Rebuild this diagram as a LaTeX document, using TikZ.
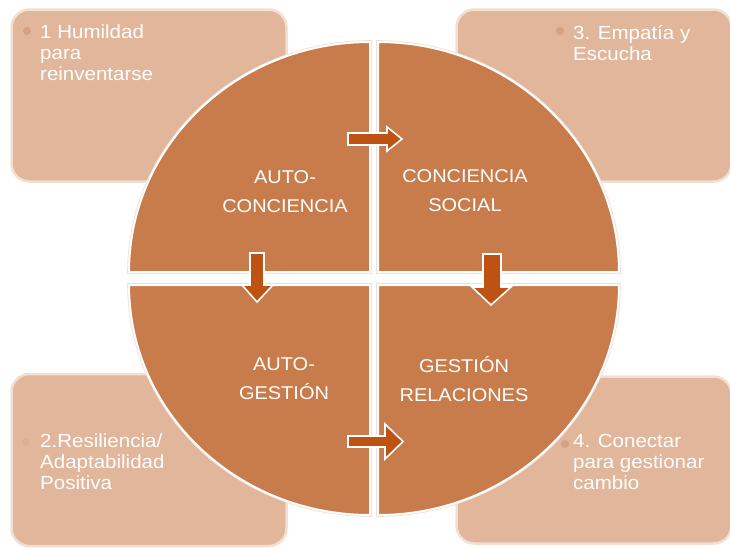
\documentclass[tikz,border=0pt]{standalone}
\usepackage{xcolor}
\usepackage{fontspec}
\setmainfont[FakeStretch=1.08]{Liberation Sans}
\usepackage{tikz}

\definecolor{orangeQ}{RGB}{201,124,75}
\definecolor{fondB}{RGB}{225,182,155}
\definecolor{bordB}{RGB}{243,222,208}
\definecolor{orangeF}{RGB}{190,82,18}
\definecolor{puceB}{RGB}{214,160,130}

\begin{document}
\begin{tikzpicture}[x=1pt,y=-1pt]
% Styles (MODIFIABLES)
\tikzstyle{boite}=[rectangle,rounded corners=18,fill=fondB,draw=bordB,line width=2.5pt,minimum width=275,minimum height=172]
\tikzstyle{quartier}=[preaction={draw=bordB,line width=3.6pt},fill=orangeQ,draw=white,line width=2pt]
\tikzstyle{fleche}=[fill=orangeF,draw=white,line width=1.6pt,line join=miter]
\tikzstyle{texte}=[anchor=north west,inner sep=0,align=left,text=white,font=\fontsize{19}{21}\selectfont]
\tikzstyle{titre}=[inner sep=0,align=center,text=white,font=\fontsize{18.5}{29}\selectfont]
\tikzstyle{puce}=[circle,fill=puceB,inner sep=0,minimum size=8]
% Dimensions (MODIFIABLES)
\def\RayonX{241pt}
\def\RayonY{230pt}
\useasboundingbox (0,0) rectangle (730,547);
% Boites
\node[boite] (B1) at (149,95.5) {};
\node[boite] (B3) at (594,95.5) {};
\node[boite] (B2) at (149,460) {};
\node[boite,minimum height=167] (B4) at (594,460) {};
% Quartiers du cercle
\draw[quartier] (370,272) -- ++(-241,0) arc[start angle=180,end angle=90,x radius=\RayonX,y radius=\RayonY] -- cycle;
\draw[quartier] (378,272) -- ++(241,0) arc[start angle=0,end angle=90,x radius=\RayonX,y radius=\RayonY] -- cycle;
\draw[quartier] (370,285) -- ++(-241,0) arc[start angle=180,end angle=270,x radius=\RayonX,y radius=\RayonY] -- cycle;
\draw[quartier] (378,285) -- ++(241,0) arc[start angle=0,end angle=-90,x radius=\RayonX,y radius=\RayonY] -- cycle;
% Fleches
\draw[fleche] (348,133) -- (387,133) -- (387,127) -- (402,139) -- (387,151) -- (387,145) -- (348,145) -- cycle;
\draw[fleche] (250,253) -- (264,253) -- (264,285) -- (273,285) -- (257,302) -- (242,285) -- (250,285) -- cycle;
\draw[fleche] (483,254) -- (501,254) -- (501,287) -- (511,287) -- (491,305) -- (472,287) -- (483,287) -- cycle;
\draw[fleche] (348,436) -- (385,436) -- (385,424) -- (403,441.5) -- (385,459) -- (385,447) -- (348,447) -- cycle;
% Titres
\node[titre] (Q1) at (285,192) {AUTO-\\CONCIENCIA};
\node[titre] (Q2) at (465,191) {CONCIENCIA\\SOCIAL};
\node[titre] (Q3) at (284,379) {AUTO-\\GESTIÓN};
\node[titre] (Q4) at (464,379) {GESTIÓN\\RELACIONES};
% Textes des boites
\node[puce] (P1) at (27,31) {};
\node[texte] (T1) at (40,25) {1 Humildad\\para\\reinventarse};
\node[puce] (P3) at (560,31) {};
\node[texte] (T3) at (573,25) {3. Empatía y\\Escucha};
\node[puce,opacity=.3] (P2) at (26,442) {};
\node[texte] (T2) at (40,434) {2.Resiliencia/\\Adaptabilidad\\Positiva};
\node[puce] (P4) at (565,444) {};
\node[texte] (T4) at (573,434) {4. Conectar\\para gestionar\\cambio};
\end{tikzpicture}
\end{document}
